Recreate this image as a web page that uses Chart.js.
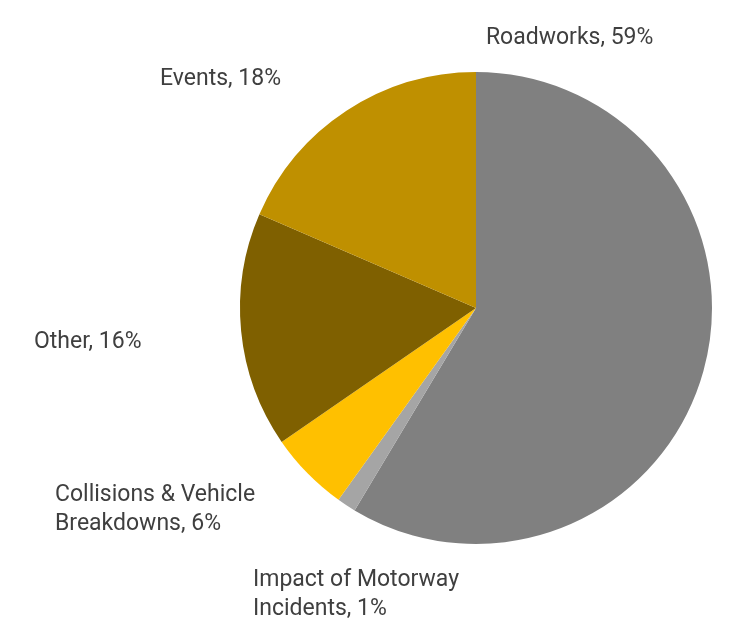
<!DOCTYPE html>
<html>
<head>
<meta charset="utf-8">
<script src="https://cdn.jsdelivr.net/npm/chart.js@4"></script>
<style>
  html, body { margin: 0; padding: 0; background: #fff; }
  #wrap { width: 735px; height: 623px; }
</style>
</head>
<body>
<div id="wrap"><canvas id="c" width="735" height="623"></canvas></div>
<script>
// Data
const categories = ["Roadworks", "Impact of Motorway Incidents", "Collisions & Vehicle Breakdowns", "Other", "Events"];
const values = [58.6, 1.3, 5.5, 16.1, 18.5];
const labelLines = [
  ["Roadworks, 59%"],
  ["Impact of Motorway", "Incidents, 1%"],
  ["Collisions & Vehicle", "Breakdowns, 6%"],
  ["Other, 16%"],
  ["Events, 18%"]
];

// Styles / layout
const colors = ["#808080", "#a5a5a5", "#ffc000", "#7f6000", "#bf9000"];
// label anchor (left edge, first line middle) in units of pie radius relative to pie centre
const labelOffsets = [
  [0.042, -1.153],
  [-0.945, 1.144],
  [-1.784, 0.784],
  [-1.873, 0.136],
  [-1.339, -0.979]
];
const FONT = "23px Roboto";
const LINE_H = 29;
const BASELINE_SHIFT = 2;

const outsideLabels = {
  id: 'outsideLabels',
  afterDatasetsDraw(chart) {
    const ctx = chart.ctx;
    const meta = chart.getDatasetMeta(0);
    ctx.save();
    ctx.font = FONT;
    ctx.fillStyle = "#3f3f3f";
    ctx.textAlign = "left";
    ctx.textBaseline = "middle";
    meta.data.forEach((arc, i) => {
      const R = arc.outerRadius;
      const x = arc.x + labelOffsets[i][0] * R;
      const y = arc.y + labelOffsets[i][1] * R + BASELINE_SHIFT;
      labelLines[i].forEach((ln, k) => ctx.fillText(ln, x, y + k * LINE_H));
    });
    ctx.restore();
  }
};

new Chart(document.getElementById('c'), {
  type: 'pie',
  data: {
    labels: categories,
    datasets: [{ data: values, backgroundColor: colors, borderWidth: 0, hoverOffset: 0 }]
  },
  options: {
    responsive: false,
    animation: false,
    layout: { padding: { left: 240, right: 23, top: 72, bottom: 79 } },
    plugins: { legend: { display: false }, tooltip: { enabled: false } }
  },
  plugins: [outsideLabels]
});
</script>
</body>
</html>
